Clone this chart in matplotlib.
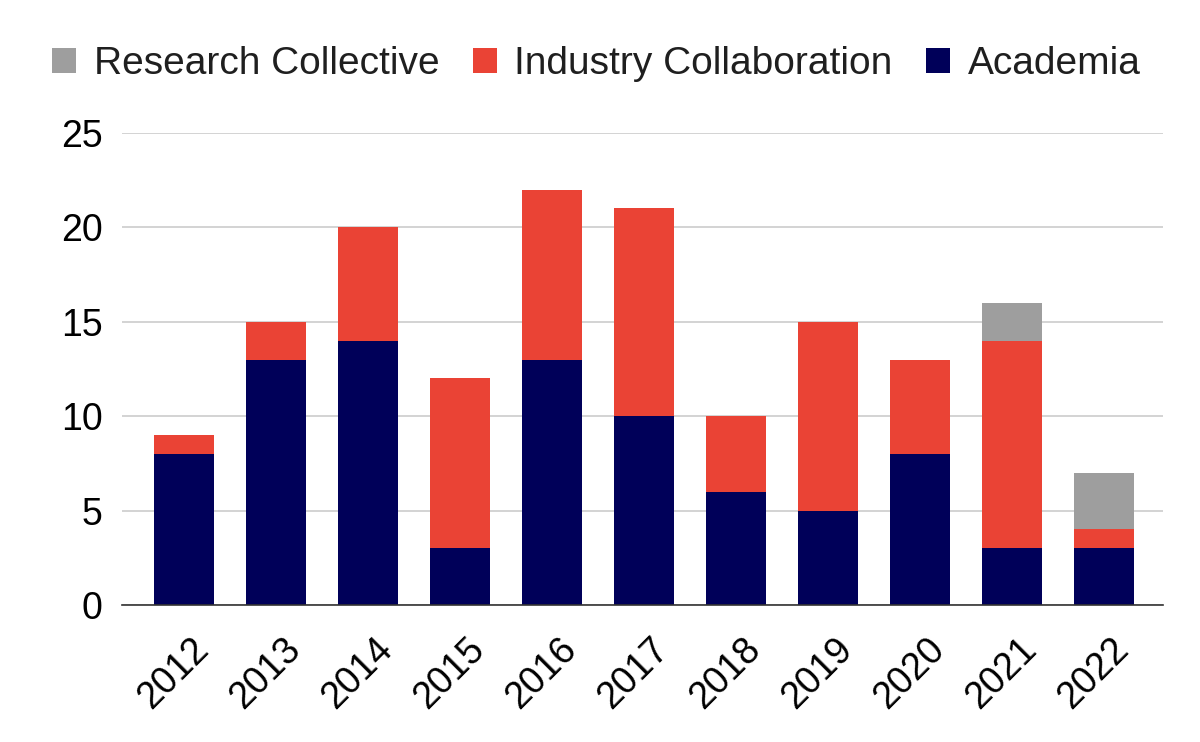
import matplotlib.pyplot as plt
import matplotlib.transforms as mtransforms
import numpy as np

plt.rcParams['font.family'] = ['Liberation Sans', 'DejaVu Sans']

years = ['2012', '2013', '2014', '2015', '2016', '2017', '2018', '2019', '2020', '2021', '2022']
academia = [8, 13, 14, 3, 13, 10, 6, 5, 8, 3, 3]
industria = [1, 2, 6, 9, 9, 11, 4, 10, 5, 11, 1]
colectivo = [0, 0, 0, 0, 0, 0, 0, 0, 0, 2, 3]

COLOR_ACAD = '#000059'
COLOR_IND = '#EA4335'
COLOR_COL = '#9E9E9E'

fig = plt.figure(figsize=(12, 7.42), dpi=100)
ax = fig.add_axes([0.1017, 0.1846, 0.8675, 0.6362])

x = np.arange(len(years))
ancho = 0.65
ax.bar(x, academia, ancho, color=COLOR_ACAD, label='Academia', zorder=3)
ax.bar(x, industria, ancho, bottom=academia, color=COLOR_IND,
       label='Industry Collaboration', zorder=3)
base = np.array(academia) + np.array(industria)
ax.bar(x, colectivo, ancho, bottom=base, color=COLOR_COL,
       label='Research Collective', zorder=3)

ax.set_xlim(-0.67, len(years) - 1 + 0.64)
ax.set_ylim(0, 25)
ax.set_yticks([0, 5, 10, 15, 20, 25])
ax.set_xticks(x)
ax.set_xticklabels(years, rotation=45, ha='right', va='center', rotation_mode='anchor')
ax.tick_params(axis='both', length=0, labelsize=27, labelcolor='#000000')
ax.tick_params(axis='x', pad=28)
ax.tick_params(axis='y', pad=14)

# desplazar las etiquetas del eje x un poco a la derecha
desplazamiento = mtransforms.ScaledTranslation(0.19, 0, fig.dpi_scale_trans)
for etiqueta in ax.get_xticklabels():
    etiqueta.set_transform(etiqueta.get_transform() + desplazamiento)

ax.grid(axis='y', color='#CCCCCC', linewidth=1.2, zorder=0)
for s in ['top', 'right', 'left']:
    ax.spines[s].set_visible(False)
ax.spines['bottom'].set_color('#333333')
ax.spines['bottom'].set_linewidth(1.2)
ax.spines['bottom'].set_zorder(4)

handles, labels = ax.get_legend_handles_labels()
fig.legend(handles[::-1], labels[::-1], loc='center', ncol=3,
           bbox_to_anchor=(0.497, 0.914), frameon=False, fontsize=28,
           handlelength=0.62, handleheight=0.62, handletextpad=0.44,
           columnspacing=0.87, labelcolor='#1f1f1f')

fig.savefig('out.png', dpi=100)
